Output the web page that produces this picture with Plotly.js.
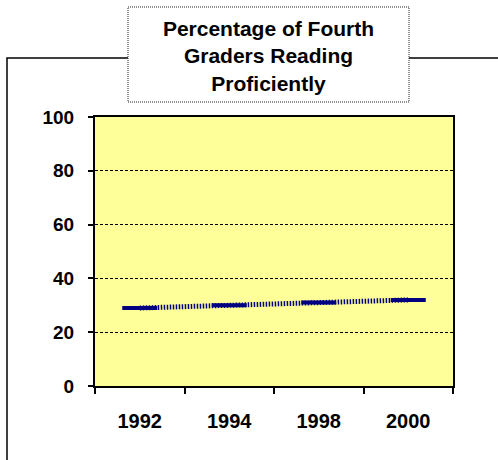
<!DOCTYPE html>
<html>
<head>
<meta charset="utf-8">
<script src="https://cdn.plot.ly/plotly-3.0.1.min.js"></script>
<style>html,body{margin:0;padding:0;background:#fff;}#chart{width:498px;height:460px;}</style>
</head>
<body>
<div id="chart"></div>
<script>
var years = ["1992", "1994", "1998", "2000"];
var percentProficient = [29, 30, 31, 32];
var yTicks = [0, 20, 40, 60, 80, 100];
var chartTitle = "Percentage of Fourth<br>Graders Reading<br>Proficiently";

var W = 498, H = 460, L = 95, R = 45, T = 117, B = 74;
var pw = W - L - R, ph = H - T - B;
function px(x) { return (x - L) / pw; }
function py(y) { return (H - B - y) / ph; }

var fam = "Liberation Sans, Arial, sans-serif";
var yFont = {family: fam, color: "#000", size: 19, weight: "bold"};
var xFont = {family: fam, color: "#000", size: 20, weight: "bold"};

var trace = {
  x: years,
  y: percentProficient,
  type: "scatter",
  mode: "lines+markers",
  line: {color: "#000080", width: 5, dash: "1.5px,1.5px"},
  marker: {symbol: "line-ew", size: 25, color: "#000080", line: {color: "#000080", width: 4}},
  hoverinfo: "x+y"
};

var layout = {
  width: W, height: H,
  margin: {l: L, r: R, t: T, b: B, pad: 0},
  paper_bgcolor: "#fff",
  plot_bgcolor: "#FFFF99",
  showlegend: false,
  font: yFont,
  title: {
    text: chartTitle,
    font: {family: fam, size: 21, weight: "bold", color: "#000"},
    xref: "container", x: 268.5 / W, xanchor: "center",
    yref: "container", y: 1 - 36 / H, yanchor: "middle"
  },
  xaxis: {
    type: "category",
    range: [-0.5, 3.5],
    tickson: "boundaries",
    ticks: "outside", ticklen: 6, tickwidth: 2, tickcolor: "#000",
    showline: true, linecolor: "#000", linewidth: 2, mirror: true,
    showgrid: false, zeroline: false,
    ticklabelstandoff: 16,
    tickfont: xFont
  },
  yaxis: {
    range: [0, 100],
    tickvals: yTicks,
    ticks: "outside", ticklen: 5, tickwidth: 2, tickcolor: "#000",
    showline: true, linecolor: "#000", linewidth: 2, mirror: true,
    showgrid: true, gridcolor: "#000", gridwidth: 1, griddash: "3px,2px",
    zeroline: false,
    ticklabelstandoff: 10,
    tickfont: yFont
  },
  shapes: [
    {type: "rect", xref: "paper", yref: "paper", layer: "above",
     x0: px(7), x1: px(520), y0: py(500), y1: py(58),
     line: {color: "#000", width: 1.5}, fillcolor: "rgba(0,0,0,0)"},
    {type: "rect", xref: "paper", yref: "paper", layer: "above",
     x0: px(128), x1: px(409), y0: py(102), y1: py(7),
     line: {color: "#222", width: 1, dash: "1px,1px"}, fillcolor: "#fff"}
  ]
};

Plotly.newPlot("chart", [trace], layout, {displayModeBar: false, staticPlot: true});
</script>
</body>
</html>
